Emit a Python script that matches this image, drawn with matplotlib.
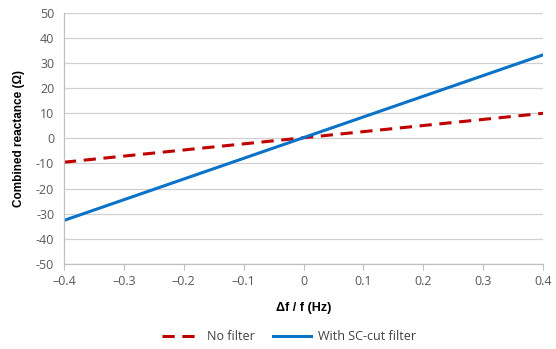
import matplotlib
matplotlib.use("Agg")
import matplotlib.pyplot as plt
from matplotlib.ticker import FuncFormatter

x = [-0.4, 0.4]
no_filter = [-9.5, 10.0]
sc_cut = [-32.7, 33.3]
x_ticks = [-0.4, -0.3, -0.2, -0.1, 0, 0.1, 0.2, 0.3, 0.4]
y_ticks = [-50, -40, -30, -20, -10, 0, 10, 20, 30, 40, 50]

plt.rcParams['font.family'] = ['Open Sans', 'DejaVu Sans']

fig = plt.figure(figsize=(5.56, 3.49), dpi=100)
ax = fig.add_axes([0.115, 0.244, 0.862, 0.719])

ax.plot(x, no_filter, color='#c00000', lw=2.2, ls=(0, (4, 2.5)), label='No filter')
ax.plot(x, sc_cut, color='#0a72c8', lw=2.2, label='With SC-cut filter')

ax.set_xlim(-0.4, 0.4)
ax.set_ylim(-50, 50)
ax.set_xticks(x_ticks)
ax.set_yticks(y_ticks)
ax.xaxis.set_major_formatter(FuncFormatter(lambda v, p: ('\u2013' if v < -1e-9 else '') + ('%g' % abs(round(v, 1)))))
ax.yaxis.set_major_formatter(FuncFormatter(lambda v, p: '%d' % v))

ax.grid(axis='y', color='#d0d0d0', lw=0.9)
ax.set_axisbelow(True)
for s in ['top', 'right']:
    ax.spines[s].set_visible(False)
for s in ['left', 'bottom']:
    ax.spines[s].set_color('#c0c0c0')
    ax.spines[s].set_linewidth(0.9)
ax.tick_params(axis='y', length=0, labelsize=9, colors='#595959', pad=7)
ax.tick_params(axis='x', length=4, direction='out', color='#c0c0c0', labelsize=9, labelcolor='#595959', pad=4)

ax.set_xlabel('\u0394f / f (Hz)', fontsize=9, fontweight='bold', labelpad=10, family=['Liberation Sans', 'DejaVu Sans'])
ax.set_ylabel('Combined reactance (\u03a9)', fontsize=8.5, fontweight='bold', labelpad=8, family=['Liberation Sans', 'DejaVu Sans'])

fig.legend(loc='center', bbox_to_anchor=(0.52, 0.035), ncol=2, frameon=False, fontsize=9,
           handlelength=3.0, columnspacing=1.5, handletextpad=0.6, labelcolor='#404040')

fig.savefig('out.png', dpi=100)
